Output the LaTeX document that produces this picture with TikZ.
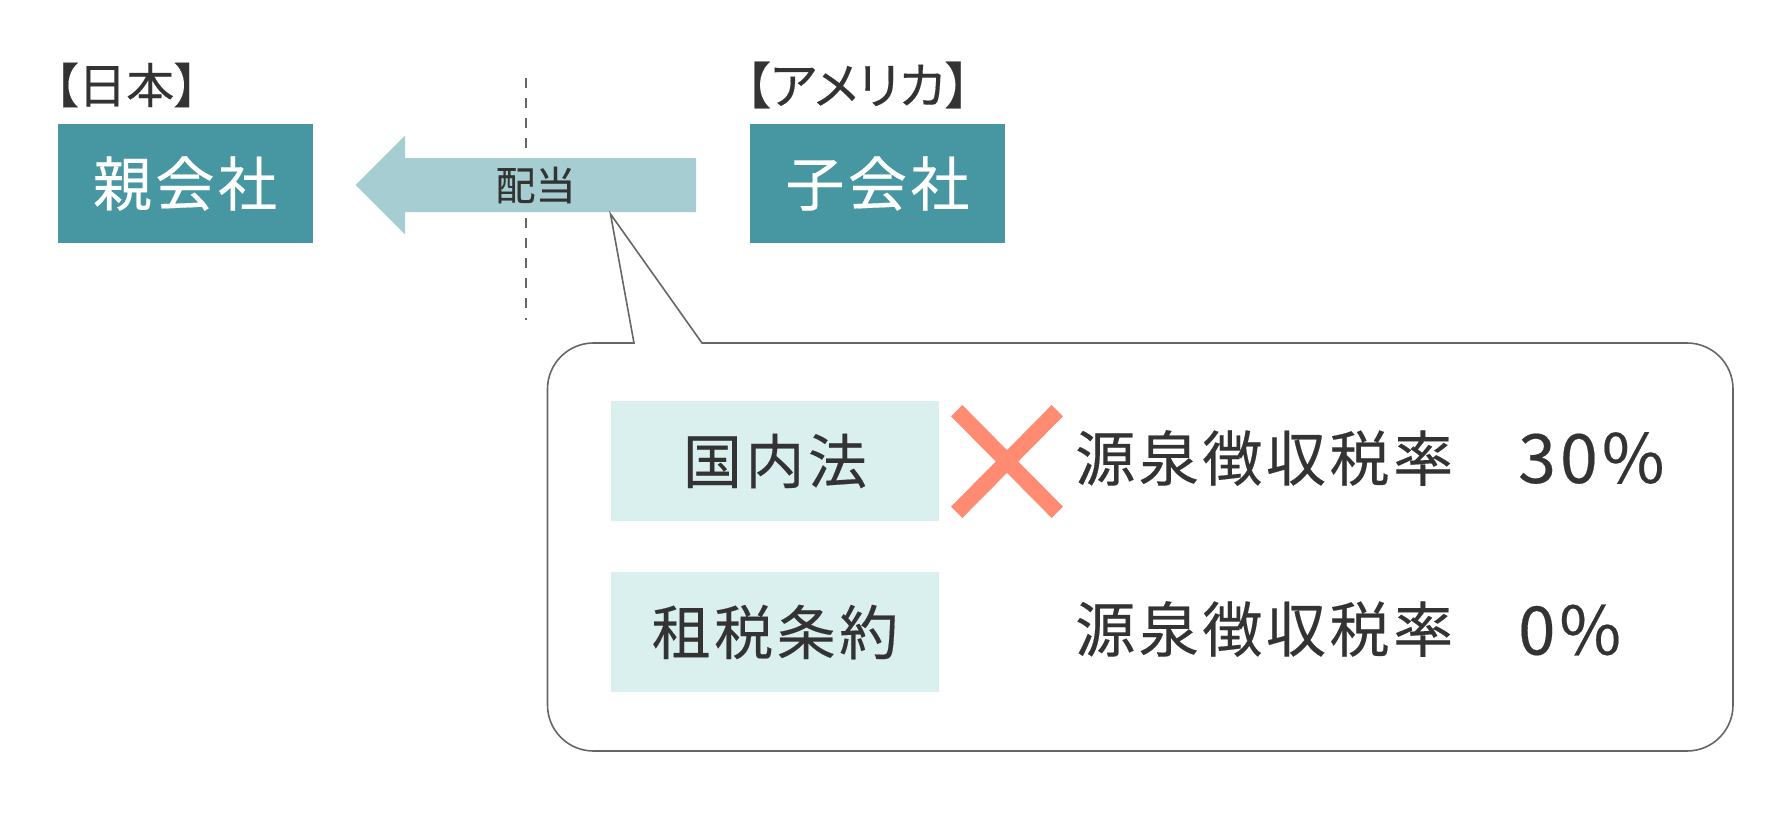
\documentclass[tikz,border=0pt]{standalone}
\usepackage{fontspec}
\setmainfont[FakeBold=0.3]{Noto Sans CJK JP}
\newfontfamily\labelfont[RawFeature=+palt,FakeBold=0.3]{Noto Sans CJK JP}
\newfontfamily\widefont[LetterSpace=6,FakeBold=0.3]{Noto Sans CJK JP}
\definecolor{tealbox}{HTML}{4797A2}
\definecolor{tealarrow}{HTML}{A5CDD2}
\definecolor{tealpale}{HTML}{DAF0EE}
\definecolor{crossred}{HTML}{FF8B73}
\definecolor{inktext}{HTML}{333333}
\definecolor{calloutline}{HTML}{666666}
\tikzset{
	companybox/.style={fill=tealbox,text=white,inner sep=0pt,minimum width=255pt,minimum height=119pt,font=\widefont\fontsize{59}{62}\selectfont},
	lawbox/.style={fill=tealpale,text=inktext,inner sep=0pt,minimum width=328pt,minimum height=120pt,font=\widefont\fontsize{59}{62}\selectfont},
	countrylabel/.style={text=inktext,inner sep=0pt,anchor=west,font=\labelfont\fontsize{48}{52}\selectfont},
	ratelabel/.style={text=inktext,inner sep=0pt,anchor=west,font=\widefont\fontsize{60}{64}\selectfont},
}
\begin{document}
\begin{tikzpicture}[x=1pt,y=-1pt]
	\useasboundingbox (0,0) rectangle (1781,827);

	\draw[calloutline,line width=1.3pt,dash pattern=on 10pt off 10pt] (526,78) -- (526,320);
	\fill[tealarrow] (355.5,185) -- (405,135.5) -- (405,158) -- (696,158) -- (696,212) -- (405,212) -- (405,234.5) -- cycle;

	\node[companybox] (parent) at (185,183.5) {\raisebox{2pt}{親会社}};
	\node[companybox] (child) at (877.5,183.5) {\raisebox{2pt}{子会社}};
	\node[countrylabel] (japan) at (54,85) {【日本】};
	\node[countrylabel,font=\labelfont\fontsize{50}{54}\selectfont] (america) at (745,85) {【アメリカ】};
	\node[text=inktext,inner sep=0pt,font=\fontsize{40}{44}\selectfont] (dividend) at (535.5,185) {配当};

	\draw[calloutline,line width=1.6pt,fill=white] (610.5,214) -- (702,343) [rounded corners=46pt] -- (1733,343) -- (1733,751) -- (547.5,751) -- (547.5,343) [sharp corners] -- (634,343) -- cycle;

	\node[lawbox] (domestic) at (775,461) {\raisebox{2pt}{国内法}};
	\node[lawbox] (treaty) at (775,632) {\raisebox{2pt}{租税条約}};

	\foreach \a/\b in {956.7/1057.3,1057.3/956.7}
	\draw[crossred,line width=16pt] (\a,410.7) -- (\b,512.3);

	\node[ratelabel] (rateA) at (1075,458) {源泉徴収税率};
	\node[ratelabel] (rateB) at (1075,629) {源泉徴収税率};
	\node[ratelabel,font=\widefont\fontsize{68}{72}\selectfont] (valueA) at (1518,458) {30\%};
	\node[ratelabel,font=\widefont\fontsize{67}{72}\selectfont] (valueB) at (1518,630) {0\%};
\end{tikzpicture}
\end{document}
